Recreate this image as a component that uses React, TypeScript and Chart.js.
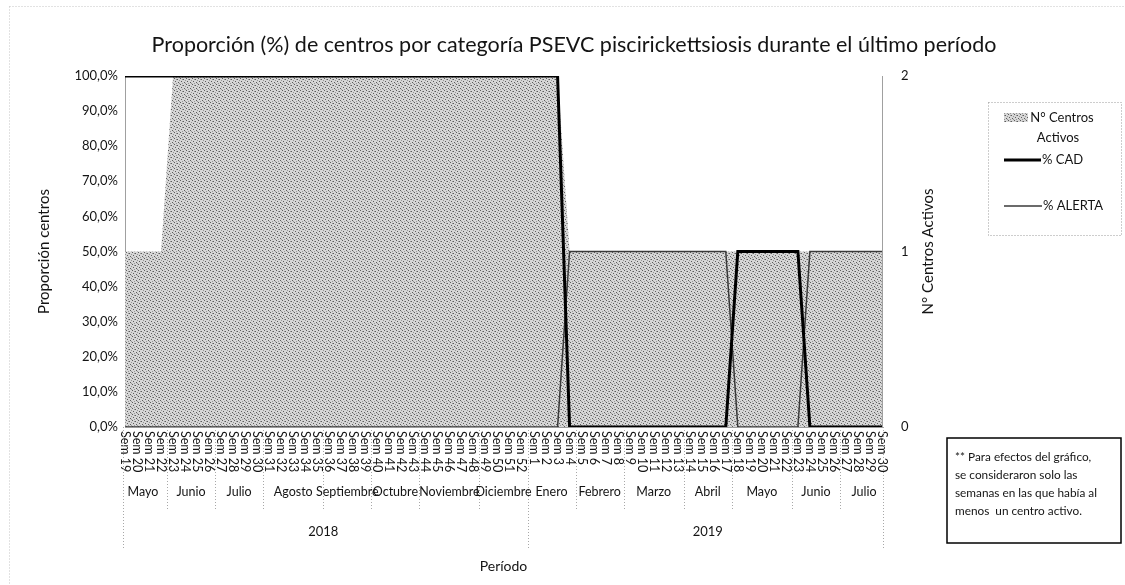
import React, { useEffect, useRef } from "react";
import { Chart, registerables } from "chart.js";

Chart.register(...registerables);

// ---------- DATA ----------
const titleText =
  "Proporción (%) de centros por categoría PSEVC piscirickettsiosis durante el último período";

const weekLabels2018 = [
  "Sem 19", "Sem 20", "Sem 21", "Sem 22", "Sem 23", "Sem 24", "Sem 25", "Sem 26",
  "Sem 27", "Sem 28", "Sem 29", "Sem 30", "Sem 31", "Sem 32", "Sem 33", "Sem 34",
  "Sem 35", "Sem 36", "Sem 37", "Sem 38", "Sem 39", "Sem 40", "Sem 41", "Sem 42",
  "Sem 43", "Sem 44", "Sem 45", "Sem 46", "Sem 47", "Sem 48", "Sem 49", "Sem 50",
  "Sem 51", "Sem 52",
];
const weekLabels2019 = [
  "Sem 1", "Sem 2", "Sem 3", "Sem 4", "Sem 5", "Sem 6", "Sem 7", "Sem 8",
  "Sem 9", "Sem 10", "Sem 11", "Sem 12", "Sem 13", "Sem 14", "Sem 15", "Sem 16",
  "Sem 17", "Sem 18", "Sem 19", "Sem 20", "Sem 21", "Sem 22", "Sem 23", "Sem 24",
  "Sem 25", "Sem 26", "Sem 27", "Sem 28", "Sem 29", "Sem 30",
];

const monthNames = [
  "Mayo", "Junio", "Julio", "Agosto", "Septiembre", "Octubre", "Noviembre", "Diciembre",
  "Enero", "Febrero", "Marzo", "Abril", "Mayo", "Junio", "Julio",
];
const monthWeekCounts = [4, 4, 4, 5, 4, 4, 5, 4, 4, 4, 5, 4, 5, 4, 4];

const yearNames = ["2018", "2019"];
const yearWeekCounts = [34, 30];

// N° Centros Activos (right axis)
const centrosActivos2018 = [
  1, 1, 1, 1, 2, 2, 2, 2, 2, 2, 2, 2, 2, 2, 2, 2, 2,
  2, 2, 2, 2, 2, 2, 2, 2, 2, 2, 2, 2, 2, 2, 2, 2, 2,
];
const centrosActivos2019 = [
  2, 2, 2, 1, 1, 1, 1, 1, 1, 1, 1, 1, 1, 1, 1,
  1, 1, 1, 1, 1, 1, 1, 1, 1, 1, 1, 1, 1, 1, 1,
];

// % CAD (left axis)
const pctCAD2018 = [
  100, 100, 100, 100, 100, 100, 100, 100, 100, 100, 100, 100, 100, 100, 100, 100, 100,
  100, 100, 100, 100, 100, 100, 100, 100, 100, 100, 100, 100, 100, 100, 100, 100, 100,
];
const pctCAD2019 = [
  100, 100, 100, 0, 0, 0, 0, 0, 0, 0, 0, 0, 0, 0, 0,
  0, 0, 50, 50, 50, 50, 50, 50, 0, 0, 0, 0, 0, 0, 0,
];

// % ALERTA (left axis)
const pctAlerta2018 = [
  0, 0, 0, 0, 0, 0, 0, 0, 0, 0, 0, 0, 0, 0, 0, 0, 0,
  0, 0, 0, 0, 0, 0, 0, 0, 0, 0, 0, 0, 0, 0, 0, 0, 0,
];
const pctAlerta2019 = [
  0, 0, 0, 50, 50, 50, 50, 50, 50, 50, 50, 50, 50, 50, 50,
  50, 50, 0, 0, 0, 0, 0, 0, 50, 50, 50, 50, 50, 50, 50,
];

const leftAxisTitle = "Proporción centros";
const rightAxisTitle = "N° Centros Activos";
const xAxisTitle = "Período";
const legendArea = ["N° Centros", "Activos"];
const legendCAD = "% CAD";
const legendAlerta = "% ALERTA";
const noteLines = [
  "** Para efectos del gráfico,",
  "se consideraron solo las",
  "semanas en las que había al",
  "menos  un centro activo.",
];

const weekLabels = [...weekLabels2018, ...weekLabels2019];
const centrosActivos = [...centrosActivos2018, ...centrosActivos2019];
const pctCAD = [...pctCAD2018, ...pctCAD2019];
const pctAlerta = [...pctAlerta2018, ...pctAlerta2019];

// ---------- STYLE ----------
const FONT = "Lato, 'Open Sans', 'Liberation Sans', sans-serif";
const TXT = "#141414";
const SEP = "#a8a8a8";

// stipple texture for the area fill (fixed tile)
const stippleDark: [number, number][] = [[0, 0], [3, 1], [1, 3], [4, 4]];
const stippleMid: [number, number][] = [[5, 2], [2, 5], [2, 1], [5, 5]];

function makePattern(): CanvasPattern | string {
  const c = document.createElement("canvas");
  c.width = 6;
  c.height = 6;
  const g = c.getContext("2d");
  if (!g) return "#c4c4c4";
  g.fillStyle = "#d6d6d6";
  g.fillRect(0, 0, 6, 6);
  g.fillStyle = "#5c5c5c";
  stippleDark.forEach(([x, y]) => g.fillRect(x, y, 1, 1));
  g.fillStyle = "#969696";
  stippleMid.forEach(([x, y]) => g.fillRect(x, y, 1, 1));
  const p = g.createPattern(c, "repeat");
  return p || "#c4c4c4";
}

function groupRanges(counts: number[]) {
  const out: { first: number; last: number }[] = [];
  let s = 0;
  counts.forEach((n) => {
    out.push({ first: s, last: s + n - 1 });
    s += n;
  });
  return out;
}

const decorPlugin = {
  id: "decor",
  afterDraw(chart: any) {
    const ctx: CanvasRenderingContext2D = chart.ctx;
    const xs = chart.scales.x;
    const area = chart.chartArea;
    const pattern = chart.$areaPattern;
    ctx.save();

    // outer faint dotted frame
    ctx.strokeStyle = "#c4c4c4";
    ctx.lineWidth = 1;
    ctx.setLineDash([1, 2]);
    ctx.beginPath();
    ctx.moveTo(9.5, 6.5);
    ctx.lineTo(1125, 6.5);
    ctx.moveTo(9.5, 6.5);
    ctx.lineTo(9.5, 585);
    ctx.stroke();

    // chart title
    ctx.setLineDash([]);
    ctx.fillStyle = TXT;
    ctx.font = `21.5px ${FONT}`;
    ctx.textAlign = "center";
    ctx.textBaseline = "middle";
    ctx.fillText(titleText, 574, 45);

    // right axis title (reads bottom to top)
    ctx.save();
    ctx.translate(928, (area.top + area.bottom) / 2);
    ctx.rotate(-Math.PI / 2);
    ctx.font = `15px ${FONT}`;
    ctx.textAlign = "center";
    ctx.textBaseline = "middle";
    ctx.fillText(rightAxisTitle, 0, 0);
    ctx.restore();

    // week labels (rotated, reading top to bottom)
    ctx.font = `12.5px ${FONT}`;
    weekLabels.forEach((lab, i) => {
      const x = xs.getPixelForValue(i);
      ctx.save();
      ctx.translate(x, area.bottom + 4);
      ctx.rotate(Math.PI / 2);
      ctx.textAlign = "left";
      ctx.textBaseline = "middle";
      ctx.fillText(lab, 0, 0);
      ctx.restore();
    });

    const px = (i: number) => xs.getPixelForValue(i);

    // separators
    ctx.strokeStyle = SEP;
    ctx.setLineDash([1, 2]);
    ctx.lineWidth = 1;
    const months = groupRanges(monthWeekCounts);
    const years = groupRanges(yearWeekCounts);
    months.forEach((g, k) => {
      if (k === months.length - 1) return;
      const x = Math.round((px(g.last) + px(g.last + 1)) / 2) + 0.5;
      ctx.beginPath();
      ctx.moveTo(x, area.bottom);
      ctx.lineTo(x, area.bottom + 83);
      ctx.stroke();
    });
    const yearEdges: number[] = [area.left - 2];
    years.forEach((g, k) => {
      if (k < years.length - 1) yearEdges.push((px(g.last) + px(g.last + 1)) / 2);
    });
    yearEdges.push(area.right + 1);
    yearEdges.forEach((xe) => {
      const x = Math.round(xe) + 0.5;
      ctx.beginPath();
      ctx.moveTo(x, area.bottom);
      ctx.lineTo(x, area.bottom + 121);
      ctx.stroke();
    });
    ctx.setLineDash([]);

    // month labels
    ctx.fillStyle = TXT;
    ctx.font = `12.5px ${FONT}`;
    ctx.textAlign = "center";
    ctx.textBaseline = "middle";
    months.forEach((g, k) => {
      ctx.fillText(monthNames[k], (px(g.first) + px(g.last)) / 2, area.bottom + 65);
    });
    // year labels
    ctx.font = `13px ${FONT}`;
    years.forEach((g, k) => {
      ctx.fillText(yearNames[k], (px(g.first) + px(g.last)) / 2, area.bottom + 105);
    });

    // legend box
    ctx.strokeStyle = "#9a9a9a";
    ctx.lineWidth = 1;
    ctx.setLineDash([1, 2]);
    ctx.strokeRect(988.5, 102.5, 133, 133);
    ctx.setLineDash([]);
    if (pattern) {
      ctx.fillStyle = pattern;
      ctx.fillRect(1004, 113, 24, 9);
    }
    ctx.fillStyle = TXT;
    ctx.font = `13px ${FONT}`;
    ctx.textAlign = "center";
    ctx.fillText(legendArea[0], 1062, 118);
    ctx.fillText(legendArea[1], 1058, 138);
    ctx.strokeStyle = "#000000";
    ctx.lineWidth = 3;
    ctx.beginPath();
    ctx.moveTo(1004, 160);
    ctx.lineTo(1041, 160);
    ctx.stroke();
    ctx.strokeStyle = "#3a3a3a";
    ctx.lineWidth = 1.5;
    ctx.beginPath();
    ctx.moveTo(1004, 206);
    ctx.lineTo(1042, 206);
    ctx.stroke();
    ctx.textAlign = "left";
    ctx.fillText(legendCAD, 1042, 160);
    ctx.fillText(legendAlerta, 1043, 206);

    // note box
    ctx.strokeStyle = "#000000";
    ctx.lineWidth = 1.5;
    ctx.strokeRect(947, 438, 174, 105);
    ctx.font = `11.8px ${FONT}`;
    ctx.textAlign = "left";
    ctx.textBaseline = "middle";
    noteLines.forEach((ln, k) => {
      ctx.fillText(ln, 955, 457 + k * 18);
    });

    ctx.restore();
  },
};

export default function App() {
  const ref = useRef<HTMLCanvasElement | null>(null);

  useEffect(() => {
    document.body.style.margin = "0";
    const canvas = ref.current;
    if (!canvas) return;
    const pattern = makePattern();

    const chart = new Chart(canvas, {
      type: "line",
      data: {
        labels: weekLabels,
        datasets: [
          {
            label: legendCAD,
            data: pctCAD,
            yAxisID: "y",
            borderColor: "#000000",
            borderWidth: 3,
            pointRadius: 0,
            tension: 0,
            fill: false,
            order: 0,
          },
          {
            label: legendAlerta,
            data: pctAlerta,
            yAxisID: "y",
            borderColor: "#3a3a3a",
            borderWidth: 1.5,
            pointRadius: 0,
            tension: 0,
            fill: false,
            order: 1,
          },
          {
            label: rightAxisTitle,
            data: centrosActivos,
            yAxisID: "y1",
            borderWidth: 0,
            borderColor: "rgba(0,0,0,0)",
            backgroundColor: pattern as any,
            pointRadius: 0,
            tension: 0,
            fill: "origin",
            order: 2,
          },
        ],
      },
      options: {
        responsive: false,
        animation: false,
        devicePixelRatio: 1,
        layout: { padding: { left: 31, top: 76, right: 0, bottom: 6 } },
        plugins: {
          legend: { display: false },
          title: { display: false },
          tooltip: { enabled: false },
        },
        scales: {
          x: {
            type: "category",
            offset: false,
            grid: { display: false, drawTicks: false },
            border: { display: true, color: "#9c9c9c", width: 1 },
            ticks: { display: false },
            title: {
              display: true,
              text: xAxisTitle,
              color: TXT,
              font: { family: FONT, size: 14 },
            },
            afterFit: (s: any) => {
              s.height = 152;
            },
          },
          y: {
            position: "left",
            min: 0,
            max: 100,
            grid: { display: false, drawTicks: false },
            border: { display: true, color: "#a0a0a0", dash: [1, 2] },
            ticks: {
              stepSize: 10,
              padding: 7,
              color: TXT,
              font: { family: FONT, size: 13 },
              callback: (v: any) => Number(v).toFixed(1).replace(".", ",") + "%",
            },
            title: {
              display: true,
              text: leftAxisTitle,
              color: TXT,
              font: { family: FONT, size: 15 },
            },
            afterFit: (s: any) => {
              s.width = 94;
            },
          },
          y1: {
            position: "right",
            min: 0,
            max: 2,
            grid: { display: false, drawTicks: false },
            border: { display: true, color: "#a0a0a0", dash: [1, 2] },
            ticks: {
              stepSize: 1,
              padding: 19,
              color: TXT,
              font: { family: FONT, size: 13 },
            },
            afterFit: (s: any) => {
              s.width = 243;
            },
          },
        },
      },
      plugins: [decorPlugin],
    } as any);
    (chart as any).$areaPattern = pattern;
    chart.draw();

    return () => {
      chart.destroy();
    };
  }, []);

  return (
    <div style={{ position: "relative", width: 1125, height: 585, background: "#ffffff" }}>
      <canvas ref={ref} width={1125} height={585} style={{ display: "block" }} />
    </div>
  );
}
